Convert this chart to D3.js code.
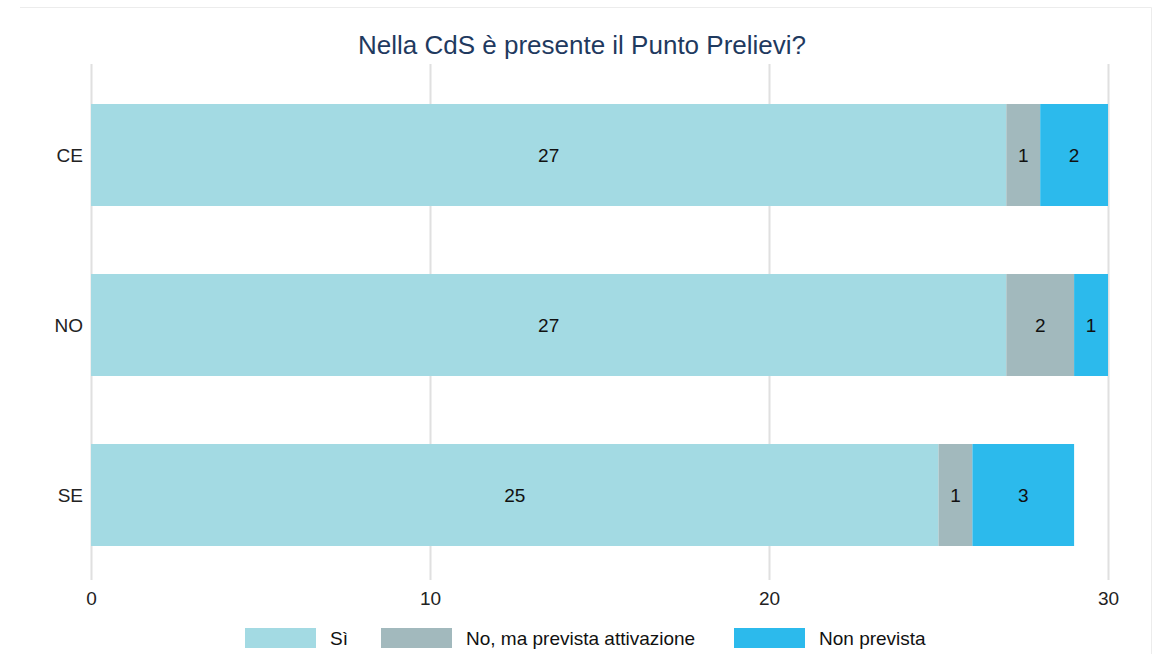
<!DOCTYPE html>
<html>
<head>
<meta charset="utf-8">
<script src="https://cdn.jsdelivr.net/npm/d3@7"></script>
<style>
  body { margin: 0; background: #fff; font-family: "Liberation Sans", Arial, sans-serif; }
</style>
</head>
<body>
<div id="chart"></div>
<script>
// data
const regions = ["CE", "NO", "SE"];
const seriesNames = ["Sì", "No, ma prevista attivazione", "Non prevista"];
const si = [27, 27, 25];
const prevista = [1, 2, 1];
const nonPrevista = [2, 1, 3];
const xTicks = [0, 10, 20, 30];
const colors = ["#a3dae3", "#a2b9bd", "#2cbaec"];

const W = 1164, H = 654;
const margin = { left: 91, right: 56, top: 64, bottom: 74 };

const svg = d3.select("#chart").append("svg")
    .attr("width", W)
    .attr("height", H)
    .style("font-family", "'Liberation Sans', Arial, sans-serif");

// card outline (faint)
svg.append("path")
    .attr("d", `M20,7.5 H1151.5 V654`)
    .attr("fill", "none")
    .attr("stroke", "#ececec")
    .attr("stroke-width", 1);

const rows = regions.map((r, i) => ({ region: r, "Sì": si[i], "No, ma prevista attivazione": prevista[i], "Non prevista": nonPrevista[i] }));
const stacked = d3.stack().keys(seriesNames)(rows);

const x = d3.scaleLinear().domain([0, 30]).range([margin.left, W - margin.right]);
const y = d3.scaleBand().domain(regions).range([70, 580]).paddingInner(0.4).paddingOuter(0.2);

// grid
svg.append("g").selectAll("line")
    .data(xTicks)
    .join("line")
    .attr("x1", d => x(d) + 0.5).attr("x2", d => x(d) + 0.5)
    .attr("y1", margin.top).attr("y2", 580)
    .attr("stroke", "#e0e0e0")
    .attr("stroke-width", 2);

svg.append("g").selectAll("text")
    .data(xTicks)
    .join("text")
    .attr("x", d => x(d) + 0.5)
    .attr("y", 605)
    .attr("text-anchor", "middle")
    .attr("font-size", 19)
    .attr("fill", "#222")
    .text(d => d);

// bars
const layer = svg.append("g").selectAll("g")
    .data(stacked)
    .join("g")
    .attr("fill", (d, i) => colors[i]);

layer.selectAll("rect")
    .data(d => d)
    .join("rect")
    .attr("x", d => x(d[0]))
    .attr("y", d => y(d.data.region))
    .attr("width", d => x(d[1]) - x(d[0]))
    .attr("height", y.bandwidth());

layer.selectAll("text")
    .data(d => d)
    .join("text")
    .attr("x", d => (x(d[0]) + x(d[1])) / 2)
    .attr("y", d => y(d.data.region) + y.bandwidth() / 2)
    .attr("dy", "0.35em")
    .attr("text-anchor", "middle")
    .attr("font-size", 19)
    .attr("fill", "#111")
    .text(d => d[1] - d[0]);

// category labels
svg.append("g").selectAll("text")
    .data(regions)
    .join("text")
    .attr("x", 83)
    .attr("y", d => y(d) + y.bandwidth() / 2)
    .attr("dy", "0.35em")
    .attr("text-anchor", "end")
    .attr("font-size", 19)
    .attr("fill", "#222")
    .text(d => d);

// title
svg.append("text")
    .attr("x", 582)
    .attr("y", 54)
    .attr("text-anchor", "middle")
    .attr("font-size", 26)
    .attr("fill", "#1f3a5f")
    .text("Nella CdS è presente il Punto Prelievi?");

// legend
const legendX = [245, 381, 734];
const leg = svg.append("g").selectAll("g")
    .data(seriesNames)
    .join("g")
    .attr("transform", (d, i) => `translate(${legendX[i]},628)`);
leg.append("rect")
    .attr("width", 71).attr("height", 20)
    .attr("fill", (d, i) => colors[i]);
leg.append("text")
    .attr("x", 85).attr("y", 10)
    .attr("dy", "0.35em")
    .attr("font-size", 19)
    .attr("fill", "#111")
    .text(d => d);
</script>
</body>
</html>
